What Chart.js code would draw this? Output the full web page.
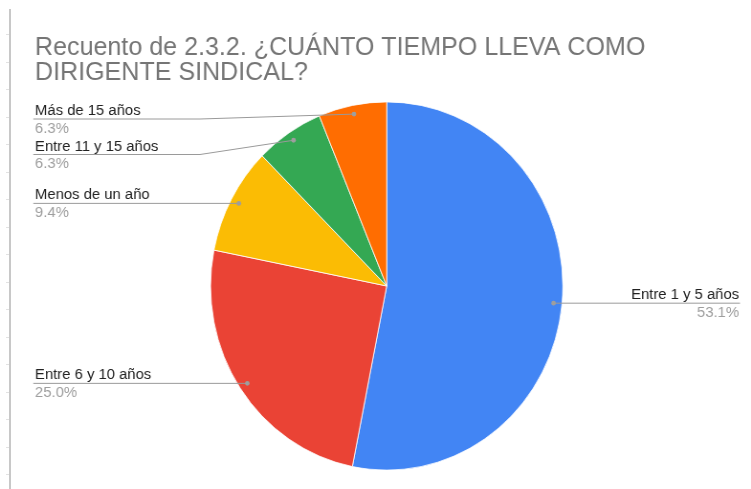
<!DOCTYPE html>
<html>
<head>
<meta charset="utf-8">
<script src="https://cdn.jsdelivr.net/npm/chart.js@4.4.1/dist/chart.umd.min.js"></script>
<style>
  html, body { margin: 0; padding: 0; background: #ffffff; overflow: hidden; }
  #wrap { position: relative; width: 751px; height: 489px; overflow: hidden; background: #fff; }
  #chart { position: absolute; left: 0; top: 0; transform-origin: 0 0; transform: scaleX(0.9567); }
  #edge { position: absolute; left: 9px; top: 9px; width: 2px; height: 480px; background: #c8c8c8; }
  .tick { position: absolute; left: 6px; width: 3px; height: 1px; background: #e2e2e2; }
</style>
</head>
<body>
<div id="wrap">
  <canvas id="chart" width="785" height="489"></canvas>
  <div id="edge"></div>
</div>
<script>
const categories = ['Entre 1 y 5 años', 'Entre 6 y 10 años', 'Menos de un año', 'Entre 11 y 15 años', 'Más de 15 años'];
const counts = [17, 8, 3, 2, 2];
const colors = ['#4285F4', '#EA4335', '#FBBC04', '#34A853', '#FF6D01'];
const titleLines = ['Recuento de 2.3.2. ¿CUÁNTO TIEMPO LLEVA COMO', 'DIRIGENTE SINDICAL?'];

// faint ticks along the left edge
const wrap = document.getElementById('wrap');
for (let y = 34; y < 489; y += 27.5) {
  const t = document.createElement('div');
  t.className = 'tick';
  t.style.top = Math.round(y) + 'px';
  wrap.appendChild(t);
}

const FONT = '"Liberation Sans", Arial, sans-serif';

const labelPlugin = {
  id: 'googleLabels',
  afterDraw(chart) {
    const ctx = chart.ctx;
    ctx.save();
    // title
    ctx.fillStyle = '#757575';
    ctx.font = '26.2px ' + FONT;
    ctx.textAlign = 'left';
    ctx.textBaseline = 'alphabetic';
    titleLines.forEach((t, i) => ctx.fillText(t, 36.6, 54.5 + i * 25));

    const meta = chart.getDatasetMeta(0);
    const total = counts.reduce((a, b) => a + b, 0);
    const items = meta.data.map((arc, i) => {
      const mid = (arc.startAngle + arc.endAngle) / 2;
      const r = arc.outerRadius * 0.952;
      return {
        i,
        x: arc.x + Math.cos(mid) * r,
        y: arc.y + Math.sin(mid) * r,
        right: Math.cos(mid) > 0
      };
    });
    const spacing = 35.5;
    const minY = chart.chartArea.top + 17.5;
    const layout = (arr) => {
      arr.sort((a, b) => a.y - b.y);
      let prev = -Infinity;
      arr.forEach(it => {
        it.ly = Math.max(it.y, prev + spacing, minY);
        prev = it.ly;
      });
    };
    const left = items.filter(it => !it.right);
    const right = items.filter(it => it.right);
    layout(left); layout(right);

    const leftTextX = 36.6, leftLineX = 34.8, bendX = 209;
    const rightTextX = 772.5, rightLineX = 773.5;

    ctx.lineWidth = 1;
    ctx.strokeStyle = '#9a9a9a';
    items.forEach(it => {
      ctx.beginPath();
      if (it.right) {
        ctx.moveTo(it.x, it.y);
        ctx.lineTo(rightLineX, it.ly);
      } else {
        ctx.moveTo(leftLineX, it.ly);
        ctx.lineTo(Math.min(bendX, it.x), it.ly);
        ctx.lineTo(it.x, it.y);
      }
      ctx.stroke();
      ctx.beginPath();
      ctx.fillStyle = '#9e9e9e';
      ctx.arc(it.x, it.y, 2.4, 0, Math.PI * 2);
      ctx.fill();

      const pct = (counts[it.i] / total * 100).toFixed(1) + '%';
      ctx.font = '15.5px ' + FONT;
      ctx.textAlign = it.right ? 'right' : 'left';
      const tx = it.right ? rightTextX : leftTextX;
      ctx.fillStyle = '#222222';
      ctx.fillText(categories[it.i], tx, it.ly - 4);
      ctx.fillStyle = '#9e9e9e';
      ctx.fillText(pct, tx, it.ly + 13.5);
    });
    ctx.restore();
  }
};

new Chart(document.getElementById('chart'), {
  type: 'pie',
  data: {
    labels: categories,
    datasets: [{
      data: counts,
      backgroundColor: colors,
      borderColor: '#ffffff',
      borderWidth: 0.8
    }]
  },
  options: {
    responsive: false,
    animation: false,
    layout: { padding: { left: 219.7, right: 196.3, top: 101.5, bottom: 18.5 } },
    plugins: {
      legend: { display: false },
      tooltip: { enabled: false },
      title: { display: false }
    }
  },
  plugins: [labelPlugin]
});
</script>
</body>
</html>
